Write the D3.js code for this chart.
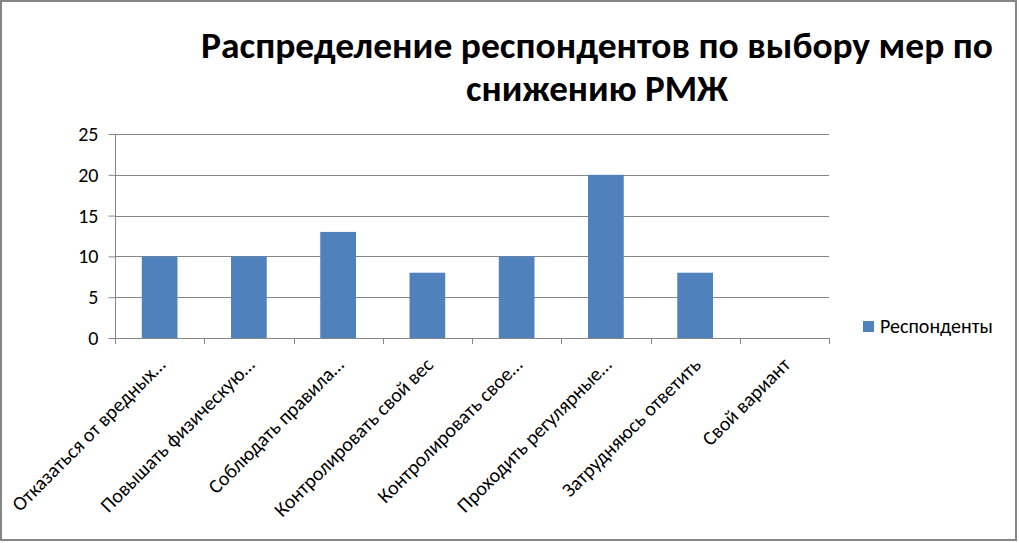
<!DOCTYPE html>
<html>
<head>
<meta charset="utf-8">
<script src="https://cdn.jsdelivr.net/npm/d3@7"></script>
<style>
  body { margin: 0; background: #fff; }
  svg text { font-family: Carlito, Calibri, "Open Sans", sans-serif; fill: #000; }
</style>
</head>
<body>
<svg id="chart" width="1019" height="543"></svg>
<script>
// chart data
const categories = [
  'Отказаться от вредных…',
  'Повышать физическую…',
  'Соблюдать правила…',
  'Контролировать свой вес',
  'Контролировать свое…',
  'Проходить регулярные…',
  'Затрудняюсь ответить',
  'Свой вариант'
];
const respondents = [10, 10, 13, 8, 10, 20, 8, 0];
const yTicks = [0, 5, 10, 15, 20, 25];
const titleLines = ['Распределение респондентов по выбору мер по', 'снижению РМЖ'];
const seriesName = 'Респонденты';

const svg = d3.select('#chart');
const W = 1019, H = 543;
const plot = { left: 115, right: 829, top: 134, bottom: 338 };
const barColor = '#4F81BD';
const lineColor = '#868686';

// outer border
svg.append('rect')
  .attr('x', 1).attr('y', 1)
  .attr('width', W - 4).attr('height', H - 4)
  .attr('fill', '#fff')
  .attr('stroke', lineColor)
  .attr('stroke-width', 2);

// title
svg.append('g').selectAll('text')
  .data(titleLines)
  .join('text')
  .attr('x', 597)
  .attr('y', (d, i) => 58 + i * 43)
  .attr('text-anchor', 'middle')
  .attr('font-size', '36px')
  .attr('font-weight', 'bold')
  .attr('textLength', (d, i) => i === 0 ? 792 : 262)
  .attr('lengthAdjust', 'spacingAndGlyphs')
  .text(d => d);

const x = d3.scaleBand()
  .domain(categories)
  .range([plot.left, plot.right])
  .paddingInner(0.6)
  .paddingOuter(0.3);

const y = d3.scaleLinear()
  .domain([0, 25])
  .range([plot.bottom, plot.top]);

// gridlines
svg.append('g').selectAll('line')
  .data(yTicks.filter(t => t > 0))
  .join('line')
  .attr('x1', plot.left).attr('x2', plot.right)
  .attr('y1', d => Math.round(y(d)) + 0.5)
  .attr('y2', d => Math.round(y(d)) + 0.5)
  .attr('stroke', lineColor)
  .attr('stroke-width', 1);

// bars
svg.append('g').selectAll('rect')
  .data(respondents)
  .join('rect')
  .attr('x', (d, i) => x(categories[i]))
  .attr('width', x.bandwidth())
  .attr('y', d => y(d))
  .attr('height', d => y(0) - y(d))
  .attr('fill', barColor);

// y axis
const yAxis = svg.append('g')
  .attr('transform', `translate(${plot.left + 0.5},0)`)
  .call(d3.axisLeft(y).tickValues(yTicks).tickSize(7).tickPadding(10));
yAxis.selectAll('path, line').attr('stroke', lineColor);
yAxis.select('.domain').attr('d', `M0,${plot.top}V${plot.bottom}`);
yAxis.selectAll('text')
  .attr('font-size', '20px')
  .attr('font-family', 'Carlito, Calibri, "Open Sans", sans-serif')
  .attr('fill', '#000');

// x axis: ticks at category boundaries
const boundaries = d3.range(categories.length + 1).map(i => plot.left + i * (plot.right - plot.left) / categories.length);
const xAxis = svg.append('g');
xAxis.append('line')
  .attr('x1', plot.left).attr('x2', plot.right)
  .attr('y1', y(0) + 0.5).attr('y2', y(0) + 0.5)
  .attr('stroke', lineColor);
xAxis.selectAll('line.tick')
  .data(boundaries)
  .join('line')
  .attr('class', 'tick')
  .attr('x1', d => Math.round(d) + 0.5).attr('x2', d => Math.round(d) + 0.5)
  .attr('y1', y(0)).attr('y2', y(0) + 6)
  .attr('stroke', lineColor);

// rotated category labels
xAxis.selectAll('text')
  .data(categories)
  .join('text')
  .attr('transform', d => `translate(${x(d) + x.bandwidth() / 2 + 7},${y(0) + 28}) rotate(-45)`)
  .attr('text-anchor', 'end')
  .attr('font-size', '20px')
  .text(d => d);

// legend
const legend = svg.append('g').attr('transform', 'translate(863,321)');
legend.append('rect')
  .attr('width', 11).attr('height', 11)
  .attr('fill', barColor);
legend.append('text')
  .attr('x', 17).attr('y', 12)
  .attr('font-size', '20px')
  .text(seriesName);
</script>
</body>
</html>
